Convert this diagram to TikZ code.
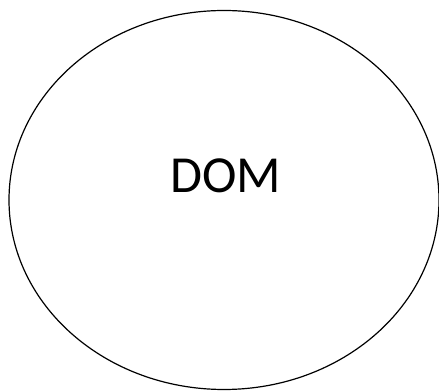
\documentclass[tikz,border=0pt]{standalone}
\usepackage{fontspec}
\setmainfont{Carlito}
\usetikzlibrary{shapes.geometric}
\begin{document}
\begin{tikzpicture}[x=1pt,y=1pt,
  domshape/.style={draw=black, line width=1.2pt, ellipse, minimum width=430pt, minimum height=379pt, inner sep=0pt},
  domlabel/.style={font=\fontsize{52}{60}\selectfont, inner sep=0pt, anchor=base}]
\useasboundingbox (0,0) rectangle (439,391);
\node[domshape] (e) at (224,191) {};
\node[domlabel] (t) at (226,198) {DOM};
\end{tikzpicture}
\end{document}
